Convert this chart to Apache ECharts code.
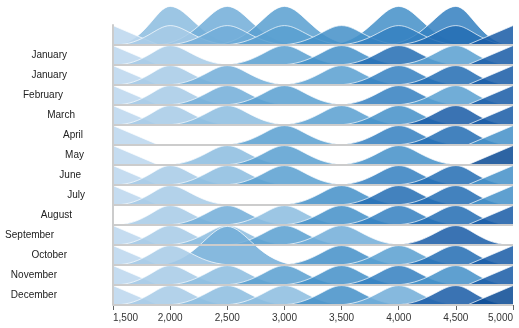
<!DOCTYPE html>
<html><head><meta charset="utf-8">
<script src="https://cdn.jsdelivr.net/npm/echarts@6/dist/echarts.min.js"></script>
<style>html,body{margin:0;padding:0;background:#fff}#c{width:519px;height:328px}</style>
</head><body><div id="c"></div>
<script>
// Row labels (top row has no label)
const months = ['', 'January','January','February','March','April','May','June','July','August','September','October','November','December'];
// Ridge centres on the x axis
const centers = [1500,2000,2500,3000,3500,4000,4500,5000];
const xTicks = [1500,2000,2500,3000,3500,4000,4500,5000];
// Intensity level of each ridge per row (0 = no ridge)
const rowTopBack = [0,3,4,5,0,6,7,0];   // tall ridges behind the top row
const rowTop  = [1,2,4,5,6,7,8,9];
const rowJan1 = [1,2,0,5,6,8,5,9];
const rowJan2 = [1,2,4,0,5,7,8,9];
const rowFeb  = [1,2,4,5,0,7,5,9];
const rowMar  = [1,2,3,0,5,6,9,9];
const rowApr  = [1,0,0,5,0,7,8,6];
const rowMay  = [1,0,3,5,0,6,0,10];
const rowJun  = [1,2,3,5,0,7,8,6];
const rowJul  = [1,2,0,0,6,8,8,6];
const rowAug  = [0,2,4,3,6,7,8,9];
const rowSep  = [1,2,3,5,4,0,9,0];
const rowOctTall = [0,0,4,0,0,0,0,0];
const rowOct  = [1,2,0,0,6,5,8,9];
const rowNov  = [1,2,3,5,6,7,6,9];
const rowDec  = [1,2,3,3,6,4,9,10];
const tallHeight = 1.93;
const normalHeight = 0.97;

// ---- styling / layout (not data) ----
const labelPad = [0,46,46,50,38,30,29,32,28,41,59,46,56,56];
const palette = ['#ffffff','#bcd6ee','#a6cbe7','#8cbde0','#72aed8','#5a9fd1','#4590c8','#3480c0','#246db3','#1a5ca6','#0b4a94'];
const HALF = 560, TALL_HALF = 640, TRI = 400, K1 = 0.55, K2 = 0.25;
const X_MIN = xTicks[0], X_MAX = xTicks[xTicks.length - 1];
const layers = [
  [0, rowTopBack, tallHeight],
  [0, rowTop, normalHeight],
  [1, rowJan1, normalHeight],[2, rowJan2, normalHeight],[3, rowFeb, normalHeight],
  [4, rowMar, normalHeight],[5, rowApr, normalHeight],[6, rowMay, normalHeight],
  [7, rowJun, normalHeight],[8, rowJul, normalHeight],[9, rowAug, normalHeight],
  [10, rowSep, normalHeight],[11, rowOctTall, tallHeight],[11, rowOct, normalHeight],
  [12, rowNov, normalHeight],[13, rowDec, normalHeight]
];
const nRows = months.length;

// one item per ridge: [centre, base, height, level, kind]
const items = [];
layers.forEach(([r, lv, h]) => {
  const base = nRows - 1 - r;
  lv.forEach((level, k) => {
    if (!level) return;
    const kind = k === 0 ? 1 : (k === centers.length - 1 ? 2 : 0);
    items.push([centers[k], base, h, level, kind]);
  });
});

function renderItem(params, api) {
  const c = api.value(0), base = api.value(1), h = api.value(2);
  const level = api.value(3), kind = api.value(4);
  const P = api.coord([c, base + h]);
  const B = api.coord([c, base]);
  let fillD, lineD;
  if (kind === 1) {
    const R = api.coord([c + TRI, base]);
    lineD = `M${P[0]} ${P[1]} L${R[0]} ${R[1]}`;
    fillD = `M${B[0]} ${B[1]} L${P[0]} ${P[1]} L${R[0]} ${R[1]} Z`;
  } else if (kind === 2) {
    const L = api.coord([c - TRI, base]);
    lineD = `M${L[0]} ${L[1]} L${P[0]} ${P[1]}`;
    fillD = `M${L[0]} ${L[1]} L${P[0]} ${P[1]} L${B[0]} ${B[1]} Z`;
  } else {
    const half = h > 1.5 ? TALL_HALF : HALF;
    const L = api.coord([Math.max(c - half, X_MIN), base]);
    const R = api.coord([Math.min(c + half, X_MAX), base]);
    const dl = P[0] - L[0], dr = R[0] - P[0];
    lineD = `M${L[0]} ${L[1]} C${L[0] + K1 * dl} ${L[1]} ${P[0] - K2 * dl} ${P[1]} ${P[0]} ${P[1]}` +
            ` C${P[0] + K2 * dr} ${P[1]} ${R[0] - K1 * dr} ${R[1]} ${R[0]} ${R[1]}`;
    fillD = lineD + ' Z';
  }
  return {
    type: 'group',
    children: [
      { type: 'path', shape: { pathData: fillD }, style: { fill: palette[level], opacity: 0.86, stroke: null } },
      { type: 'path', shape: { pathData: lineD }, style: { fill: null, stroke: 'rgba(255,255,255,0.7)', lineWidth: 1 } }
    ]
  };
}

const chart = echarts.init(document.getElementById('c'), null, { renderer: 'canvas' });
chart.setOption({
  backgroundColor: '#fff',
  animation: false,
  grid: { left: 113, right: 6, top: 25, bottom: 23, containLabel: false, outerBoundsMode: 'none' },
  xAxis: {
    type: 'value', min: X_MIN, max: X_MAX, interval: 500,
    axisLine: { show: false },
    axisTick: { show: true, length: 5, lineStyle: { color: '#666' } },
    axisLabel: { fontSize: 10, color: '#333', fontFamily: 'Liberation Sans, Arial, sans-serif',
      alignMinLabel: 'left', alignMaxLabel: 'right',
      formatter: v => v.toLocaleString('en-US') },
    splitLine: { show: false }
  },
  yAxis: [{
    type: 'value', min: 0, max: nRows, interval: 1, position: 'left', z: 5,
    axisLine: { show: true, lineStyle: { color: '#ccc', width: 2 } },
    axisTick: { show: false }, axisLabel: { show: false },
    splitLine: { show: true, showMaxLine: false, lineStyle: { color: '#ccc', width: 2 } }
  }, {
    type: 'category', position: 'left', inverse: true, z: 6,
    data: months.map((m, i) => ({ value: m, textStyle: { padding: [0, labelPad[i], 0, 0] } })),
    axisLine: { show: false }, axisTick: { show: false }, splitLine: { show: false },
    axisLabel: { fontSize: 10, color: '#222', margin: 0, fontFamily: 'Liberation Sans, Arial, sans-serif' }
  }],
  series: [{
    type: 'custom', xAxisIndex: 0, yAxisIndex: 0, clip: false, silent: true, z: 2,
    renderItem: renderItem,
    encode: { x: 0, y: 1 },
    data: items
  }]
});
</script></body></html>
